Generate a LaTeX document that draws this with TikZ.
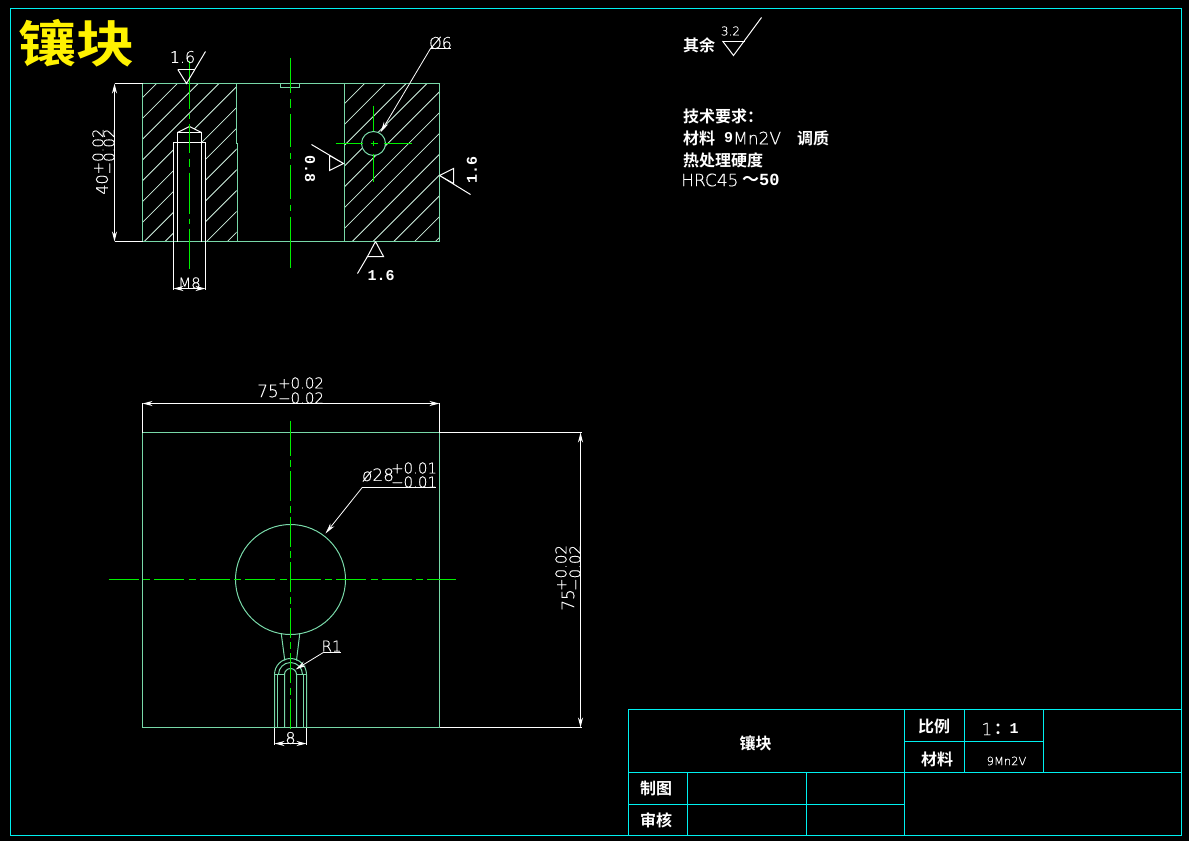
\documentclass[tikz,border=0pt]{standalone}
\usepackage{fontspec}
\usetikzlibrary{arrows.meta}
\setmainfont{Liberation Sans}
\newfontfamily\cad{DejaVu Sans ExtraLight}[FakeBold=0.35]
\newfontfamily\cjk{Noto Sans CJK SC}[BoldFont={Noto Sans CJK SC Bold}]
\newfontfamily\bnum{Liberation Mono}[BoldFont={Liberation Mono Bold}]
\definecolor{cy}{HTML}{00F0F0}
\definecolor{pg}{HTML}{78D8A8}
\definecolor{cg}{HTML}{00F000}
\definecolor{hat}{HTML}{D0F0E0}
\tikzset{
 frameln/.style={cy,line width=1pt},
 part/.style={pg,line width=1pt},
 hatchln/.style={hat,line width=.8pt},
 wln/.style={white,line width=1pt},
 dimln/.style={white,line width=1pt,{Stealth[length=10pt,width=5pt]}-{Stealth[length=10pt,width=5pt]}},
 leadln/.style={white,line width=.8pt,-{Stealth[length=11pt,width=5pt]}},
 center/.style={cg,line width=1pt,dash pattern=on 30pt off 4.5pt on 7pt off 4pt},
 centers/.style={cg,line width=1pt},
 centerh/.style={cg,line width=1.6pt},
 cadt/.style={white,inner sep=0pt,font=\cad\fontsize{#1}{#1}\selectfont},
 cadt/.default=14pt,
 bt/.style={white,inner sep=0pt,font=\bnum\bfseries\fontsize{15pt}{15pt}\selectfont},
 cj/.style={white,inner sep=0pt,font=\cjk\bfseries\fontsize{16pt}{16pt}\selectfont},
}
\begin{document}
\begin{tikzpicture}[x=1pt,y=-1pt]
\useasboundingbox (0,0) rectangle (1189,841);
\fill[black] (0,0) rectangle (1189,841);
\begin{scope}[shift={(0.5,0.5)}]
% frame
\draw[frameln] (10,8) rectangle (1181,835);
\draw[frameln] (628,835) -- (628,709) -- (1181,709);
\draw[frameln] (628,772) -- (1181,772);
\draw[frameln] (904,741) -- (1043,741);
\draw[frameln] (628,804) -- (904,804);
\draw[frameln] (904,709) -- (904,835);
\draw[frameln] (964,709) -- (964,772);
\draw[frameln] (1043,709) -- (1043,772);
\draw[frameln] (687,772) -- (687,835);
\draw[frameln] (806,772) -- (806,835);
% title
\node[yellow,inner sep=0pt,yscale=.86,font=\cjk\bfseries\fontsize{58pt}{58pt}\selectfont] (title) at (75.5,42.5) {镶块};
% hatching
\begin{scope}
\clip (142,83) rectangle (236,241);
\foreach \k in {-18,...,-6} \draw[hatchln] ({592.7+\k*20.8-250},250) -- ({592.7+\k*20.8-70},70);
\end{scope}
\begin{scope}
\clip (344,83) rectangle (439,241);
\foreach \k in {-8,...,5} \draw[hatchln] ({592.7+\k*20.8-250},250) -- ({592.7+\k*20.8-70},70);
\end{scope}
\fill[black] (173,241) -- (173,142) -- (177,142) -- (177,132) -- (189,126) -- (201,132) -- (201,142) -- (205,142) -- (205,241) -- cycle;
\fill[black] (373,143) circle (12);
% top view outline
\draw[part] (142,83) rectangle (439,241);
\draw[part] (236,83) -- (236,143) -- (237,143) -- (237,241);
\draw[part] (344,83) -- (344,241);
\draw[part] (280,83) rectangle (299,87);
\draw[part] (373,143) circle (12);
% thread hole
\draw[wln] (173,241) -- (173,142) -- (205,142) -- (205,241);
\draw[wln] (177,241) -- (177,132) -- (201,132) -- (201,241);
\draw[wln] (177,132) -- (189,126) -- (201,132);
\draw[wln] (173,241) -- (173,289);
\draw[wln] (205,241) -- (205,289);
\draw[dimln] (173,288) -- (205,288);
\node[cadt=15pt] (m8) at (189,282.5) {M8};
% center lines top view
\foreach \a/\b in {60/108,113/118,123/152,158/166,172/213,218/223,228/268}
  \draw[centers] (189,\a) -- (189,\b);
\foreach \a/\b in {57/92,98/107,113/146,152/158,164/198,204/210,216/267}
  \draw[centers] (290,\a) -- (290,\b);
\foreach \a/\b in {335/362,370/377,383/411}
  \draw[centerh] (\a,143) -- (\b,143);
\foreach \a/\b in {105/130,140/145,153/181}
  \draw[centers] (373,\a) -- (373,\b);
% left dim
\draw[wln] (114,83) -- (142,83);
\draw[wln] (114,241) -- (142,241);
\draw[dimln] (114,83) -- (114,241);
\node[cadt=16pt,rotate=90] (d40) at (101.5,184) {40};
\node[cadt=15pt,rotate=90] (d40a) at (97.5,151) {+0.02};
\node[cadt=15pt,rotate=90] (d40b) at (108.5,151) {−0.02};
% roughness top
\draw[wln] (177.3,69) -- (194.3,69);
\draw[wln] (177.3,69) -- (186,83) -- (205,51);
\node[cadt=16pt] (r1) at (182,56.5) {1.6};
% phi 6
\draw[leadln] (430,48) -- (380,132);
\draw[white,line width=.8pt] (430,48) -- (450,48);
\node[cadt=16pt] (p6) at (440,42.5) {Ø6};
% rough left
\draw[wln] (311,144) -- (343,163) -- (329,170) -- (329,155) -- (343,163);
\node[bt,rotate=-90] (r2) at (309.5,168.5) {0.8};
% rough right
\draw[wln] (439,175) -- (453,168) -- (453,183) -- (439,175) -- (470,194);
\node[bt,rotate=90] (r3) at (471.5,169.5) {1.6};
% rough bottom
\draw[wln] (375,241) -- (367,256) -- (383,256) -- (375,241);
\draw[wln] (367,256) -- (357,273);
\node[bt] (r4) at (380.5,275.5) {1.6};
% other
\node[cj] (qy) at (698.5,45) {其余};
\draw[wln] (722,40.5) -- (744,40.5);
\draw[wln] (722,40.5) -- (733,55) -- (761,17);
\node[cadt=12pt] (v32) at (730,30.5) {3.2};
\node[cj,anchor=west] (t1) at (682.5,116) {技术要求：};
\node[cj,anchor=west] (t2a) at (682.5,137.5) {材料};
\node[bt,anchor=west] (t2b) at (723.5,137.5) {9};
\node[cadt=17pt,anchor=west] (t2c) at (732.5,137.5) {Mn2V};
\node[cj,anchor=west] (t2d) at (796.5,137.5) {调质};
\node[cj,anchor=west] (t3) at (682.5,159.5) {热处理硬度};
\node[cadt=17pt,anchor=west] (t4a) at (680.5,179.5) {HRC45};
\node[bt,anchor=west,font=\bnum\bfseries\fontsize{17pt}{17pt}\selectfont] (t4b) at (741.5,179.5) {\cjk ～\bnum\bfseries 50};
% front view
\draw[part] (142,432) rectangle (439,727);
\draw[wln] (439,432) -- (581,432);
\draw[wln] (439,727) -- (581,727);
\draw[wln] (142,432) -- (142,402);
\draw[wln] (439,432) -- (439,402);
\draw[dimln] (142,403) -- (439,403);
\draw[dimln] (580,432) -- (580,727);
\node[cadt=17pt] (d75) at (267.5,390.5) {75};
\node[cadt=15pt] (d75a) at (300.5,382.5) {+0.02};
\node[cadt=15pt] (d75b) at (300.5,397.5) {−0.02};
\node[cadt=17pt,rotate=90] (e75) at (567.5,599.5) {75};
\node[cadt=15pt,rotate=90] (e75a) at (560.5,567.5) {+0.02};
\node[cadt=15pt,rotate=90] (e75b) at (574.5,567.5) {−0.02};
% circle
\draw[part] (290,579) circle (55);
\draw[leadln] (361.7,487) -- (325,533);
\draw[white,line width=1pt] (361.7,487) -- (435,487);
\node[cadt=17pt] (p28) at (377.5,474.5) {ø28};
\node[cadt=15pt] (p28a) at (413.5,467.5) {+0.01};
\node[cadt=15pt] (p28b) at (413.5,481.5) {−0.01};
% neck & slot
\draw[part] (280.7,632.7) -- (284.3,660);
\draw[part] (299.3,632.7) -- (296,660);
\draw[part] (274,727) -- (274,674) arc[start angle=180,end angle=360,radius=16] -- (306,727);
\draw[part] (278,674) arc[start angle=180,end angle=360,radius=12];
\draw[part] (284,727) -- (284,674) arc[start angle=180,end angle=360,radius=6] -- (296,727);
\draw[part] (274,674) -- (284,674);
\draw[part] (296,674) -- (306,674);
\draw[part] (277,674) -- (277,727);
\draw[part] (303,674) -- (303,727);
\draw[wln] (274,727) -- (274,744);
\draw[wln] (306,727) -- (306,744);
\draw[dimln] (274,743) -- (306,743);
\node[cadt=16pt] (d8) at (290,737.5) {8};
\draw[leadln] (323.3,651.7) -- (295,669);
\draw[white,line width=.8pt] (323.3,651.7) -- (340,651.7);
\node[cadt=15pt] (rr) at (331,645.5) {R1};
% center lines front
\draw[centerh,dash pattern=on 30pt off 4.5pt on 7pt off 4pt] (108,579) -- (455,579);
\draw[centers] (290,420) -- (290,425);
\draw[center] (290,425) -- (290,729);
% title block text
\node[cj] (b1) at (755,743) {镶块};
\node[cj] (b2) at (933.5,725.5) {比例};
\node[cj] (b3) at (936.5,758.5) {材料};
\node[cj] (b4) at (655.5,787.5) {制图};
\node[cj] (b5) at (655.5,819.5) {审核};
\node[cadt=17pt] (b6) at (986.5,728.5) {1};
\node[cj] (b7) at (1001.5,728.5) {：};
\node[bt] (b8) at (1013.5,728.5) {1};
\node[cadt=11.5pt] (b9) at (1006,760.5) {9Mn2V};
\end{scope}
\end{tikzpicture}
\end{document}
